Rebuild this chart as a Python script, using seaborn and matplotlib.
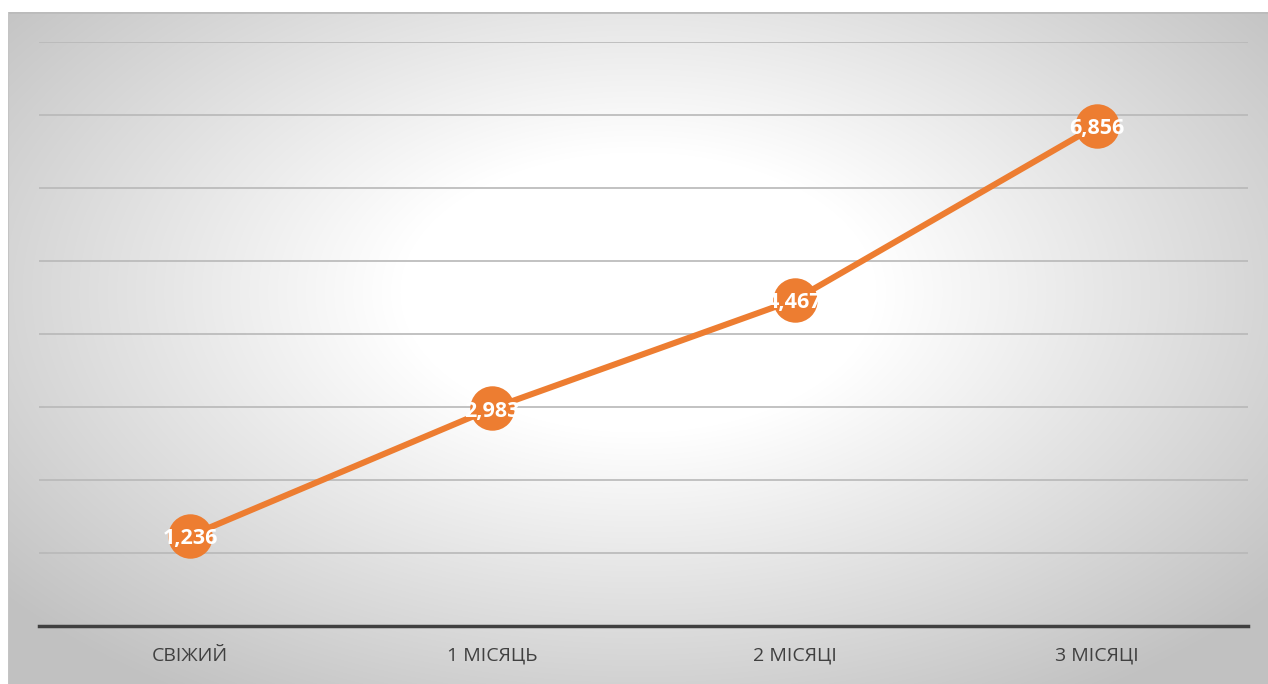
import numpy as np
import pandas as pd
import matplotlib
matplotlib.use("Agg")
import matplotlib.pyplot as plt
import seaborn as sns

# -------------------------------
# Data
# -------------------------------
categories = ["СВІЖИЙ", "1 МІСЯЦЬ", "2 МІСЯЦІ", "3 МІСЯЦІ"]
values = [1.236, 2.983, 4.467, 6.856]
value_labels = ["1,236", "2,983", "4,467", "6,856"]

df = pd.DataFrame({"period": categories, "value": values})

sns.set_style("white")
plt.rcParams["font.family"] = ["Open Sans", "DejaVu Sans"]

W, H = 1268, 684
fig = plt.figure(figsize=(W / 100, H / 100), dpi=100)
fig.patch.set_facecolor("white")

# -------------------------------
# Radial gradient background (chart frame)
# -------------------------------
bg = fig.add_axes([8 / W, 0, 1 - 8 / W, 1 - 12 / H])
bg.set_axis_off()
yy, xx = np.mgrid[0:672, 0:1260]
cx, cy = 630, 280
r = np.sqrt(((xx - cx) / 680) ** 2 + ((yy - cy) / 400) ** 2)
shade = np.clip(1 - 0.24 * np.clip(r - 0.35, 0, None) / 0.85, 0.76, 1)
bg.imshow(np.dstack([shade, shade, shade]), aspect="auto", extent=[0, 1, 0, 1])
bg.axhline(1, color="#bbbbbb", lw=2)
bg.axvline(0, color="#c4c4c4", lw=1.5)
bg.set_xlim(0, 1)
bg.set_ylim(0, 1)

# -------------------------------
# Line chart
# -------------------------------
ax = fig.add_axes([39 / W, 58 / H, (1248 - 39) / W, (626 - 42) / H])
ax.patch.set_alpha(0)

sns.lineplot(data=df, x="period", y="value", ax=ax, color="#ED7D31",
             linewidth=4.4, marker="o", markersize=32, markeredgewidth=0,
             sort=False)

for i, (v, lab) in enumerate(zip(values, value_labels)):
    ax.annotate(lab, (i, v), xytext=(0, -2), textcoords="offset points",
                ha="center", va="center", color="white",
                fontsize=15.5, fontweight="bold", zorder=5)

ax.set_xlim(-0.5, 3.5)
ax.set_ylim(0, 8)
ax.set_yticks(range(1, 9))
ax.yaxis.grid(True, color="#b8b8b8", lw=1.2)
ax.set_yticklabels([])
ax.tick_params(axis="y", length=0)
ax.tick_params(axis="x", length=0, labelsize=14, labelcolor="#404040", pad=15)
ax.set_xlabel("")
ax.set_ylabel("")
for s in ["top", "right", "left"]:
    ax.spines[s].set_visible(False)
ax.spines["bottom"].set_color("#404040")
ax.spines["bottom"].set_linewidth(2.5)
ax.set_axisbelow(True)

fig.savefig("out.png", dpi=100)
